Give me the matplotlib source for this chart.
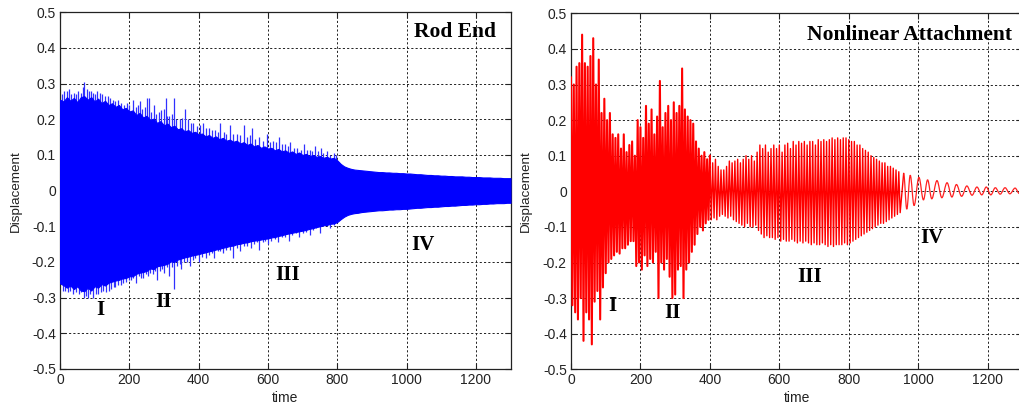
import numpy as np
import matplotlib
matplotlib.use("Agg")
import matplotlib.pyplot as plt
from matplotlib.path import Path
from matplotlib.patches import PathPatch

plt.rcParams["path.simplify"] = False

# ---------------- data ----------------
# Rod End: solid core of the dense oscillation, sampled every 10 time units (0..1300)
blue_step = 10
blue_upper = [
    0.255, 0.25, 0.262, 0.252, 0.26, 0.248, 0.262, 0.265, 0.255, 0.262,
    0.25, 0.258, 0.245, 0.252, 0.24, 0.245, 0.235, 0.24, 0.228, 0.232,
    0.222, 0.225, 0.212, 0.218, 0.205, 0.21, 0.198, 0.202, 0.19, 0.195,
    0.183, 0.188, 0.178, 0.182, 0.172, 0.175, 0.166, 0.17, 0.162, 0.165,
    0.158, 0.16, 0.152, 0.156, 0.148, 0.152, 0.144, 0.148, 0.14, 0.143,
    0.137, 0.14, 0.132, 0.136, 0.128, 0.132, 0.124, 0.128, 0.12, 0.124,
    0.118, 0.12, 0.113, 0.117, 0.11, 0.113, 0.106, 0.11, 0.103, 0.107,
    0.10, 0.103, 0.097, 0.10, 0.095, 0.097, 0.092, 0.095, 0.09, 0.092,
    0.085, 0.075, 0.068, 0.064, 0.061, 0.059, 0.058, 0.057, 0.056, 0.055,
    0.054, 0.053, 0.052, 0.052, 0.051, 0.051, 0.050, 0.050, 0.049, 0.049,
    0.048, 0.048, 0.047, 0.046, 0.046, 0.045, 0.044, 0.044, 0.043, 0.043,
    0.042, 0.042, 0.041, 0.041, 0.040, 0.040, 0.040, 0.039, 0.039, 0.038,
    0.038, 0.038, 0.037, 0.037, 0.037, 0.036, 0.036, 0.036, 0.035, 0.035,
    0.035,
]
blue_lower = [
    -0.26, -0.265, -0.272, -0.266, -0.276, -0.268, -0.28, -0.282, -0.272, -0.28,
    -0.268, -0.272, -0.262, -0.266, -0.258, -0.255, -0.252, -0.25, -0.246, -0.245,
    -0.24, -0.24, -0.233, -0.23, -0.228, -0.225, -0.218, -0.22, -0.212, -0.21,
    -0.208, -0.205, -0.198, -0.20, -0.193, -0.19, -0.187, -0.185, -0.182, -0.18,
    -0.178, -0.175, -0.173, -0.17, -0.168, -0.165, -0.163, -0.16, -0.158, -0.155,
    -0.154, -0.15, -0.149, -0.146, -0.145, -0.142, -0.14, -0.139, -0.137, -0.135,
    -0.134, -0.131, -0.13, -0.127, -0.125, -0.122, -0.12, -0.118, -0.116, -0.114,
    -0.112, -0.11, -0.107, -0.105, -0.102, -0.10, -0.097, -0.096, -0.093, -0.092,
    -0.088, -0.08, -0.073, -0.068, -0.065, -0.063, -0.062, -0.060, -0.059, -0.058,
    -0.057, -0.056, -0.055, -0.055, -0.054, -0.053, -0.053, -0.052, -0.052, -0.051,
    -0.051, -0.050, -0.049, -0.048, -0.048, -0.047, -0.046, -0.046, -0.045, -0.045,
    -0.044, -0.043, -0.043, -0.042, -0.042, -0.041, -0.040, -0.040, -0.039, -0.039,
    -0.038, -0.038, -0.037, -0.037, -0.036, -0.036, -0.035, -0.035, -0.035, -0.034,
    -0.034,
]
# Rod End: thin isolated peaks sticking out of the core
blue_peak_t = [5, 12, 20, 25, 33, 40, 45, 52, 60, 66, 70, 78, 84, 90, 96, 100, 108,
               114, 122, 130, 138, 145, 152, 160, 168, 176, 185, 192, 200, 210, 218,
               224, 230, 238, 245, 250, 258, 264, 270, 278, 285, 292, 300, 305, 310,
               315, 322, 328, 336, 345, 352, 360, 369, 377, 385, 395, 405, 414, 422,
               430, 440, 448, 455, 463, 472, 480, 492, 500, 510, 518, 530, 540, 548,
               554, 562, 575, 585, 597, 605, 615, 623, 631, 640, 650, 658, 665, 675,
               685, 695, 704, 712, 720, 728, 737, 745, 752, 760, 770, 780, 790, 797]
blue_peak_y = [0.27, 0.28, 0.28, 0.285, 0.27, 0.275, 0.27, 0.28, 0.275, 0.29, 0.305,
               0.285, 0.28, 0.28, 0.275, 0.27, 0.28, 0.275, 0.27, 0.265, 0.265, 0.26,
               0.255, 0.25, 0.255, 0.245, 0.24, 0.245, 0.24, 0.255, 0.235, 0.24, 0.25,
               0.23, 0.235, 0.26, 0.26, 0.22, 0.24, 0.215, 0.22, 0.225, 0.23, 0.26,
               0.21, 0.21, 0.215, 0.26, 0.20, 0.20, 0.205, 0.23, 0.20, 0.19, 0.19,
               0.18, 0.185, 0.19, 0.175, 0.175, 0.17, 0.17, 0.165, 0.19, 0.165, 0.16,
               0.185, 0.16, 0.16, 0.155, 0.185, 0.15, 0.155, 0.175, 0.145, 0.15, 0.14,
               0.16, 0.135, 0.14, 0.135, 0.15, 0.13, 0.13, 0.125, 0.135, 0.12, 0.12,
               0.115, 0.13, 0.115, 0.115, 0.11, 0.125, 0.11, 0.12, 0.105, 0.11, 0.10,
               0.105, 0.10]
blue_trough_t = [8, 15, 22, 30, 38, 45, 55, 62, 70, 76, 80, 88, 95, 103, 110, 118, 125,
                 132, 140, 148, 155, 160, 168, 175, 183, 190, 198, 205, 212, 220, 228,
                 235, 240, 248, 255, 260, 268, 275, 280, 288, 295, 300, 308, 315, 322,
                 330, 338, 345, 350, 358, 366, 375, 383, 390, 400, 410, 420, 430, 438,
                 445, 455, 462, 470, 480, 490, 500, 510, 520, 530, 540, 550, 560, 568,
                 575, 585, 592, 600, 610, 620, 630, 640, 650, 660, 670, 680, 690, 700,
                 710, 720, 730, 740, 750, 760, 770, 780, 790]
blue_trough_y = [-0.28, -0.28, -0.285, -0.28, -0.29, -0.285, -0.29, -0.285, -0.30,
                 -0.295, -0.30, -0.29, -0.30, -0.29, -0.29, -0.285, -0.28, -0.285,
                 -0.28, -0.275, -0.27, -0.27, -0.265, -0.265, -0.26, -0.255, -0.25,
                 -0.25, -0.245, -0.26, -0.24, -0.245, -0.245, -0.235, -0.24, -0.23,
                 -0.235, -0.225, -0.25, -0.225, -0.22, -0.23, -0.215, -0.24, -0.215,
                 -0.275, -0.21, -0.205, -0.22, -0.20, -0.20, -0.21, -0.195, -0.19,
                 -0.20, -0.185, -0.19, -0.18, -0.175, -0.19, -0.17, -0.17, -0.175,
                 -0.165, -0.165, -0.19, -0.16, -0.17, -0.155, -0.155, -0.16, -0.15,
                 -0.145, -0.165, -0.145, -0.14, -0.15, -0.14, -0.135, -0.145, -0.13,
                 -0.13, -0.14, -0.125, -0.12, -0.13, -0.12, -0.115, -0.125, -0.11,
                 -0.105, -0.12, -0.10, -0.10, -0.105, -0.095]

# Nonlinear Attachment: successive maxima (t = 0, 8, 16, ...) and minima (t = 4, 12, ...)
red_step = 8
red_upper = [
    0.32, 0.30, 0.35, 0.36, 0.44, 0.36, 0.35, 0.38, 0.43, 0.30,
    0.37, 0.22, 0.26, 0.20, 0.22, 0.16, 0.15, 0.16, 0.12, 0.16,
    0.11, 0.13, 0.14, 0.10, 0.20, 0.18, 0.15, 0.24, 0.19, 0.23,
    0.16, 0.21, 0.31, 0.18, 0.22, 0.24, 0.20, 0.25, 0.22, 0.24,
    0.345, 0.23, 0.21, 0.20, 0.19, 0.14, 0.12, 0.10, 0.11, 0.09,
    0.10, 0.08, 0.09, 0.07, 0.06, 0.06, 0.07, 0.085, 0.08, 0.085,
    0.09, 0.08, 0.09, 0.10, 0.09, 0.10, 0.085, 0.11, 0.13, 0.12,
    0.13, 0.11, 0.12, 0.13, 0.12, 0.13, 0.11, 0.13, 0.135, 0.12,
    0.14, 0.13, 0.14, 0.135, 0.14, 0.13, 0.14, 0.14, 0.13, 0.145,
    0.14, 0.145, 0.14, 0.145, 0.15, 0.145, 0.15, 0.145, 0.15, 0.15,
    0.145, 0.14, 0.14, 0.13, 0.13, 0.12, 0.115, 0.11, 0.10, 0.095,
    0.09, 0.085, 0.08, 0.08, 0.07, 0.07, 0.065, 0.06, 0.055,
]
red_lower = [
    -0.32, -0.34, -0.36, -0.30, -0.42, -0.34, -0.36, -0.43, -0.31, -0.28,
    -0.36, -0.27, -0.23, -0.20, -0.19, -0.18, -0.17, -0.175, -0.16, -0.16,
    -0.15, -0.14, -0.14, -0.21, -0.20, -0.22, -0.18, -0.21, -0.19, -0.20,
    -0.17, -0.30, -0.20, -0.22, -0.19, -0.24, -0.30, -0.29, -0.22, -0.21,
    -0.30, -0.22, -0.20, -0.17, -0.15, -0.12, -0.10, -0.11, -0.09, -0.08,
    -0.08, -0.075, -0.08, -0.07, -0.065, -0.07, -0.075, -0.07, -0.08, -0.085,
    -0.09, -0.095, -0.10, -0.09, -0.10, -0.10, -0.095, -0.11, -0.12, -0.13,
    -0.125, -0.13, -0.13, -0.135, -0.13, -0.14, -0.135, -0.14, -0.14, -0.135,
    -0.14, -0.145, -0.14, -0.145, -0.14, -0.145, -0.15, -0.145, -0.15, -0.15,
    -0.145, -0.15, -0.155, -0.15, -0.155, -0.15, -0.15, -0.15, -0.145, -0.15,
    -0.145, -0.14, -0.135, -0.13, -0.125, -0.12, -0.115, -0.11, -0.105, -0.10,
    -0.095, -0.09, -0.09, -0.085, -0.08, -0.075, -0.07, -0.065, -0.06,
]
# slow decaying tail: extrema times and values
red_tail_t = [958, 967, 977, 988, 1002, 1015, 1027, 1039, 1054, 1068, 1083, 1097,
              1110, 1125, 1140, 1155, 1169, 1183, 1196, 1209, 1222, 1236, 1250,
              1264, 1279, 1291, 1300]
red_tail_y = [0.05, -0.05, 0.045, -0.04, 0.039, -0.024, 0.032, -0.021, 0.03, -0.018,
              0.024, -0.016, 0.019, -0.014, 0.015, -0.011, 0.012, -0.01, 0.012, -0.01,
              0.01, -0.008, 0.01, -0.007, 0.009, -0.006, 0.002]

titles = ["Rod End", "Nonlinear Attachment"]
regions = ["I", "II", "III", "IV"]
region_pos_left = [(116, -0.335), (298, -0.312), (656, -0.236), (1047, -0.153)]
region_pos_right = [(120, -0.321), (293, -0.342), (688, -0.241), (1039, -0.131)]
xticks = [0, 200, 400, 600, 800, 1000, 1200]
yticks = [-0.5, -0.4, -0.3, -0.2, -0.1, 0, 0.1, 0.2, 0.3, 0.4, 0.5]
yticklabels = ["-0.5", "-0.4", "-0.3", "-0.2", "-0.1", "0", "0.1", "0.2", "0.3", "0.4", "0.5"]

# ---------------- figure ----------------
W, H = 1019, 413
fig = plt.figure(figsize=(W / 100, H / 100), dpi=100)
sans = ["Liberation Sans", "DejaVu Sans"]
serif = ["Liberation Serif", "DejaVu Serif"]

ax1 = fig.add_axes([60 / W, 1 - 369 / H, 450.5 / W, 356.7 / H])
ax2 = fig.add_axes([571 / W, 1 - 369.3 / H, 451.4 / W, 356 / H])


def style(ax, label_x):
    ax.set_xlim(0, 1300)
    ax.set_ylim(-0.5, 0.5)
    ax.set_xticks(xticks)
    ax.set_xticklabels([str(v) for v in xticks], fontfamily=sans, fontsize=10)
    ax.set_yticks(yticks)
    ax.set_yticklabels(yticklabels, fontfamily=sans, fontsize=10)
    ax.tick_params(direction="in", top=True, right=True, length=4, width=0.8, pad=3,
                   colors="#222222")
    ax.grid(True, linestyle=(0, (2.2, 2.2)), color="#222222", linewidth=0.7)
    ax.set_axisbelow(True)
    for s in ax.spines.values():
        s.set_linewidth(0.9)
        s.set_color("#222222")
    ax.set_xlabel("time", fontfamily=sans, fontsize=10, color="#222222")
    ax.set_ylabel("Displacement", fontfamily=sans, fontsize=9.7, color="#222222")
    ax.xaxis.set_label_coords(0.5, -0.062)
    ax.yaxis.set_label_coords(label_x, 0.5)


style(ax1, -0.084)
style(ax2, -0.087)

# Rod End: thin peaks (underneath) and the dense solid core
ax1.vlines(blue_peak_t, 0, blue_peak_y, color="#3030ff", linewidth=0.9, zorder=2)
ax1.vlines(blue_trough_t, blue_trough_y, 0, color="#3030ff", linewidth=0.9, zorder=2)
bt = np.arange(len(blue_upper)) * blue_step
ax1.fill_between(bt, blue_lower, blue_upper, color="#0000ff", linewidth=0.8,
                 edgecolor="#0000ff", zorder=3)

# Nonlinear attachment: zigzag through successive extrema
tmax = np.arange(len(red_upper)) * red_step
tmin = tmax + red_step / 2
rt = np.empty(2 * len(red_upper))
ry = np.empty(2 * len(red_upper))
rt[0::2], rt[1::2] = tmax, tmin
ry[0::2], ry[1::2] = red_upper, red_lower
rt = np.append(rt, red_tail_t[0])
ry = np.append(ry, red_tail_y[0])
chaotic = rt <= 400          # strongly modulated, densely overlapping part
k = int(chaotic.sum())
ax2.plot(rt[:k], ry[:k], color="#ff0000", linewidth=1.5, zorder=3)
ax2.plot(rt[k - 1:], ry[k - 1:], color="#ff0000", linewidth=1.0, zorder=3)

# tail drawn as smooth half-waves between the extrema (flat tangents at each extremum)
verts = [(red_tail_t[0], red_tail_y[0])]
codes = [Path.MOVETO]
for i in range(1, len(red_tail_t)):
    t0, y0 = red_tail_t[i - 1], red_tail_y[i - 1]
    t1, y1 = red_tail_t[i], red_tail_y[i]
    d = 0.36 * (t1 - t0)
    verts += [(t0 + d, y0), (t1 - d, y1), (t1, y1)]
    codes += [Path.CURVE4] * 3
ax2.add_patch(PathPatch(Path(verts, codes), facecolor="none", edgecolor="#ff2020",
                        linewidth=0.9, zorder=3))

# annotations
ax1.text(1139, 0.445, titles[0], fontfamily=serif, fontweight="bold", fontsize=15.5,
         ha="center", va="center", zorder=5)
ax2.text(976, 0.439, titles[1], fontfamily=serif, fontweight="bold", fontsize=15.5,
         ha="center", va="center", zorder=5)
for lab, (x, y) in zip(regions, region_pos_left):
    ax1.text(x, y, lab, fontfamily=serif, fontweight="bold", fontsize=15,
             ha="center", va="center", zorder=5)
for lab, (x, y) in zip(regions, region_pos_right):
    ax2.text(x, y, lab, fontfamily=serif, fontweight="bold", fontsize=15,
             ha="center", va="center", zorder=5)

fig.savefig("out.png", dpi=100)
